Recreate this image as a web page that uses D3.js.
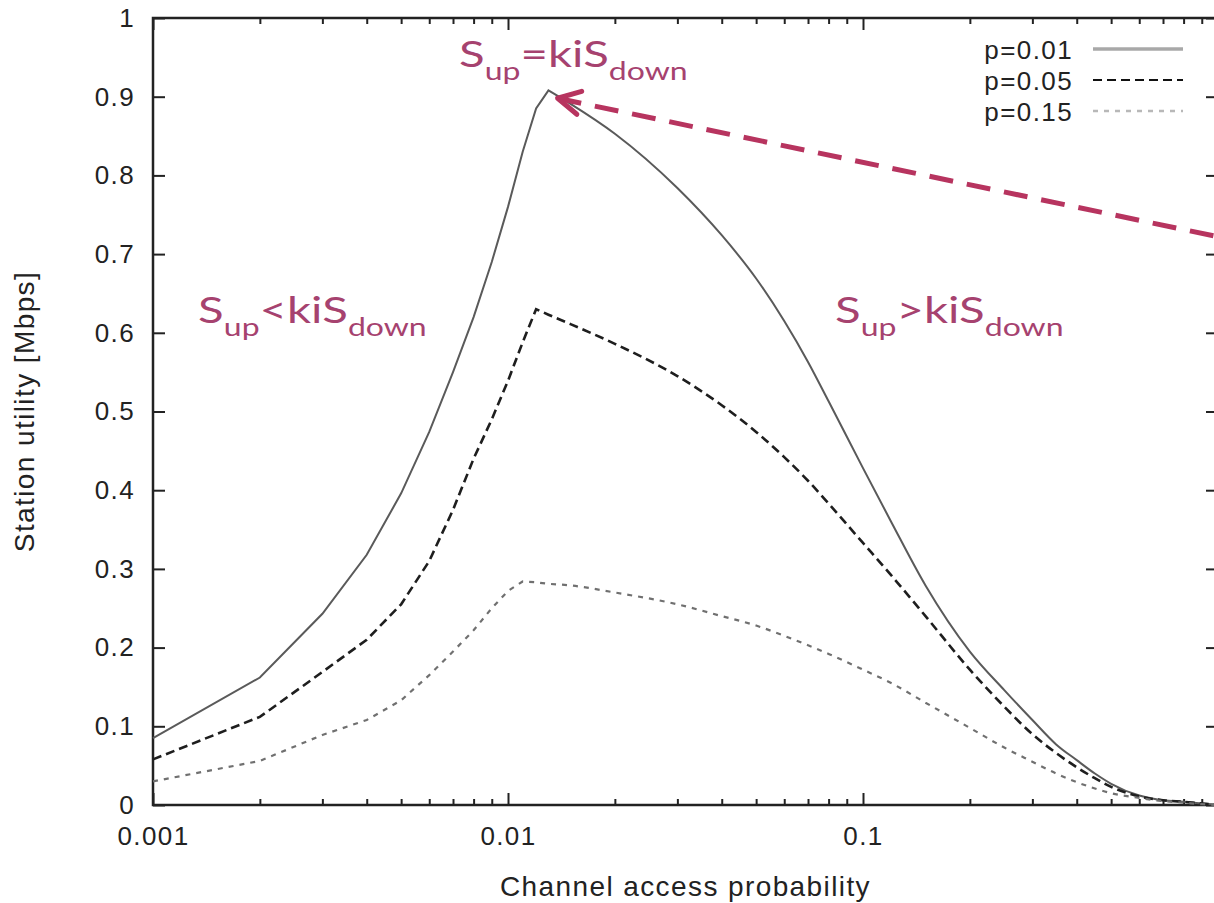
<!DOCTYPE html>
<html>
<head>
<meta charset="utf-8">
<script src="https://cdn.jsdelivr.net/npm/d3@7"></script>
<style>
  body { margin: 0; background: #fff; }
  svg { display: block; }
</style>
</head>
<body>
<div id="chart"></div>
<script>
// Channel access probability (x samples)
const accessProb = [0.001, 0.002, 0.003, 0.004, 0.005, 0.006, 0.007, 0.008, 0.009, 0.01,
  0.011, 0.012, 0.013, 0.015, 0.02, 0.03, 0.04, 0.05, 0.06, 0.07, 0.08, 0.1, 0.12, 0.15,
  0.2, 0.25, 0.3, 0.35, 0.4, 0.45, 0.5, 0.6, 0.7, 0.8, 0.9, 1.0];

// Station utility [Mbps] for each p
const utilP001 = [0.085, 0.162, 0.243, 0.318, 0.396, 0.474, 0.55, 0.62, 0.69, 0.76,
  0.83, 0.885, 0.908, 0.891, 0.853, 0.784, 0.724, 0.669, 0.615, 0.563, 0.513, 0.428, 0.36, 0.279,
  0.195, 0.146, 0.108, 0.077, 0.057, 0.04, 0.027, 0.012, 0.006, 0.004, 0.002, 0];
const utilP005 = [0.058, 0.112, 0.169, 0.21, 0.255, 0.31, 0.375, 0.44, 0.49, 0.539,
  0.588, 0.63, 0.623, 0.611, 0.586, 0.545, 0.508, 0.474, 0.442, 0.412, 0.383, 0.333, 0.292, 0.24,
  0.172, 0.125, 0.09, 0.066, 0.048, 0.034, 0.023, 0.011, 0.006, 0.004, 0.002, 0];
const utilP015 = [0.030, 0.056, 0.089, 0.108, 0.133, 0.165, 0.195, 0.222, 0.25, 0.272,
  0.284, 0.283, 0.281, 0.279, 0.27, 0.255, 0.24, 0.228, 0.215, 0.203, 0.192, 0.172, 0.155, 0.13,
  0.098, 0.073, 0.055, 0.04, 0.029, 0.021, 0.015, 0.009, 0.005, 0.003, 0.001, 0];

const seriesNames = ['p=0.01', 'p=0.05', 'p=0.15'];

const xMajorTicks = [0.001, 0.01, 0.1];
const xMinorTicks = [0.002, 0.003, 0.004, 0.005, 0.006, 0.007, 0.008, 0.009,
  0.02, 0.03, 0.04, 0.05, 0.06, 0.07, 0.08, 0.09,
  0.2, 0.3, 0.4, 0.5, 0.6, 0.7, 0.8, 0.9];
const yTicks = [0, 0.1, 0.2, 0.3, 0.4, 0.5, 0.6, 0.7, 0.8, 0.9, 1];

// Set up dimensions
const W = 1214, H = 903;
const margin = { top: 18, left: 153 };
const plotW = 1065, plotH = 787;

const svg = d3.select('#chart')
  .append('svg')
  .attr('width', W)
  .attr('height', H);

const x = d3.scaleLog()
  .domain([0.001, 1])
  .range([margin.left, margin.left + plotW]);

const y = d3.scaleLinear()
  .domain([0, 1])
  .range([margin.top + plotH, margin.top]);

const gnuFont = '"Liberation Sans", Arial, sans-serif';
const axisColor = '#222';

function styleAxis(g, showText) {
  g.select('.domain').remove();
  g.selectAll('line').style('stroke', axisColor).style('stroke-width', 2);
  g.selectAll('text')
    .style('display', showText ? null : 'none')
    .style('fill', '#222')
    .style('font-family', gnuFont)
    .style('font-size', '26px')
    .style('letter-spacing', '1.4px');
}

// Bottom axis: major + minor
svg.append('g')
  .attr('transform', `translate(0,${y(0)})`)
  .call(d3.axisBottom(x).tickValues(xMajorTicks).tickFormat(d => String(d))
    .tickSizeInner(-12).tickSizeOuter(0).tickPadding(22))
  .call(g => styleAxis(g, true));
svg.append('g')
  .attr('transform', `translate(0,${y(0)})`)
  .call(d3.axisBottom(x).tickValues(xMinorTicks).tickSizeInner(-6).tickSizeOuter(0))
  .call(g => styleAxis(g, false));

// Top mirror axis
svg.append('g')
  .attr('transform', `translate(0,${y(1)})`)
  .call(d3.axisTop(x).tickValues(xMajorTicks).tickSizeInner(-12).tickSizeOuter(0))
  .call(g => styleAxis(g, false));
svg.append('g')
  .attr('transform', `translate(0,${y(1)})`)
  .call(d3.axisTop(x).tickValues(xMinorTicks).tickSizeInner(-6).tickSizeOuter(0))
  .call(g => styleAxis(g, false));

// Left axis
svg.append('g')
  .attr('transform', `translate(${x(0.001)},0)`)
  .call(d3.axisLeft(y).tickValues(yTicks).tickFormat(d => String(d))
    .tickSizeInner(-12).tickSizeOuter(0).tickPadding(18))
  .call(g => styleAxis(g, true));

// Right mirror axis
svg.append('g')
  .attr('transform', `translate(${x(1)},0)`)
  .call(d3.axisRight(y).tickValues(yTicks).tickSizeInner(-12).tickSizeOuter(0))
  .call(g => styleAxis(g, false));

// Plot frame
svg.append('rect')
  .attr('x', x(0.001))
  .attr('y', y(1))
  .attr('width', x(1) - x(0.001))
  .attr('height', y(0) - y(1))
  .style('fill', 'none')
  .style('stroke', axisColor)
  .style('stroke-width', 2.5);

// Axis labels
svg.append('text')
  .attr('x', (x(0.001) + x(1)) / 2)
  .attr('y', 896)
  .style('text-anchor', 'middle')
  .style('font-family', gnuFont)
  .style('font-size', '28px')
  .style('letter-spacing', '1.4px')
  .style('fill', '#222')
  .text('Channel access probability');

svg.append('text')
  .attr('transform', `translate(34,${(y(0) + y(1)) / 2}) rotate(-90)`)
  .style('text-anchor', 'middle')
  .style('font-family', gnuFont)
  .style('font-size', '28px')
  .style('letter-spacing', '1.4px')
  .style('fill', '#222')
  .text('Station utility [Mbps]');

// Series
const series = [
  { name: seriesNames[0], values: utilP001, stroke: '#5a5a5a', width: 2, dash: null,
    legendStroke: '#a8a8a8', legendWidth: 3.5 },
  { name: seriesNames[1], values: utilP005, stroke: '#1e1e1e', width: 2.6, dash: '9,5',
    legendStroke: '#111', legendWidth: 2 },
  { name: seriesNames[2], values: utilP015, stroke: '#707070', width: 2.2, dash: '5,6',
    legendStroke: '#b8b8b8', legendWidth: 2.5 }
];

// rising part is a plain polyline, the falling tail is smooth
const splitIdx = accessProb.indexOf(0.013);
const lineRise = d3.line()
  .x(d => x(d[0]))
  .y(d => y(d[1]));
const lineFall = d3.line()
  .x(d => x(d[0]))
  .y(d => y(d[1]))
  .curve(d3.curveMonotoneX);

series.forEach(s => {
  const pts = accessProb.map((p, i) => [p, s.values[i]]);
  const d = lineRise(pts.slice(0, splitIdx + 1)) +
    lineFall(pts.slice(splitIdx)).replace(/^M[^CLQ]*/, '');
  svg.append('path')
    .attr('d', d)
    .style('fill', 'none')
    .style('stroke', s.stroke)
    .style('stroke-width', s.width)
    .style('stroke-dasharray', s.dash);
});

// Legend
const legend = svg.append('g');
series.forEach((s, i) => {
  const cy = 49 + i * 31;
  legend.append('text')
    .attr('x', 1073)
    .attr('y', cy + 9.5)
    .style('text-anchor', 'end')
    .style('font-family', gnuFont)
    .style('font-size', '26px')
    .style('letter-spacing', '1.4px')
    .style('fill', '#222')
    .text(s.name);
  legend.append('line')
    .attr('x1', 1093).attr('x2', 1183)
    .attr('y1', cy).attr('y2', cy)
    .style('stroke', s.legendStroke)
    .style('stroke-width', s.legendWidth)
    .style('stroke-dasharray', s.dash);
});

// Annotations
const purple = '#a6426f';
const arrowColor = '#b7345f';

function relationLabel(rel, px, py) {
  const g = svg.append('g')
    .attr('transform', `translate(${px},${py}) scale(1.28,1)`);
  const t = g.append('text')
    .style('fill', purple)
    .style('font-family', 'Lato, "Open Sans", sans-serif')
    .style('font-size', '37px');
  t.append('tspan').text('S');
  t.append('tspan').attr('dy', 13).style('font-size', '25px').text('up');
  t.append('tspan').attr('dy', -13).text(rel + 'kiS');
  t.append('tspan').attr('dy', 13).style('font-size', '25px').text('down');
}

relationLabel('=', x(0.00728), y(0.938));
relationLabel('<', x(0.00134), y(0.6125));
relationLabel('>', x(0.0834), y(0.6125));

// Arrow pointing at the peak
const tip = [x(0.0138), y(0.898)];
const tail = [x(1), y(0.722)];
svg.append('line')
  .attr('x1', tip[0]).attr('y1', tip[1])
  .attr('x2', tail[0]).attr('y2', tail[1])
  .style('stroke', arrowColor)
  .style('stroke-width', 5)
  .style('stroke-dasharray', '24,14');

const ang = Math.atan2(tail[1] - tip[1], tail[0] - tip[0]);
const armLen = 25, spread = 28 * Math.PI / 180;
const arm1 = [tip[0] + armLen * Math.cos(ang - spread), tip[1] + armLen * Math.sin(ang - spread)];
const arm2 = [tip[0] + armLen * Math.cos(ang + spread), tip[1] + armLen * Math.sin(ang + spread)];
svg.append('path')
  .attr('d', `M${arm1[0]},${arm1[1]}L${tip[0]},${tip[1]}L${arm2[0]},${arm2[1]}`)
  .style('fill', 'none')
  .style('stroke', arrowColor)
  .style('stroke-width', 5)
  .style('stroke-linecap', 'round')
  .style('stroke-linejoin', 'round');
</script>
</body>
</html>
